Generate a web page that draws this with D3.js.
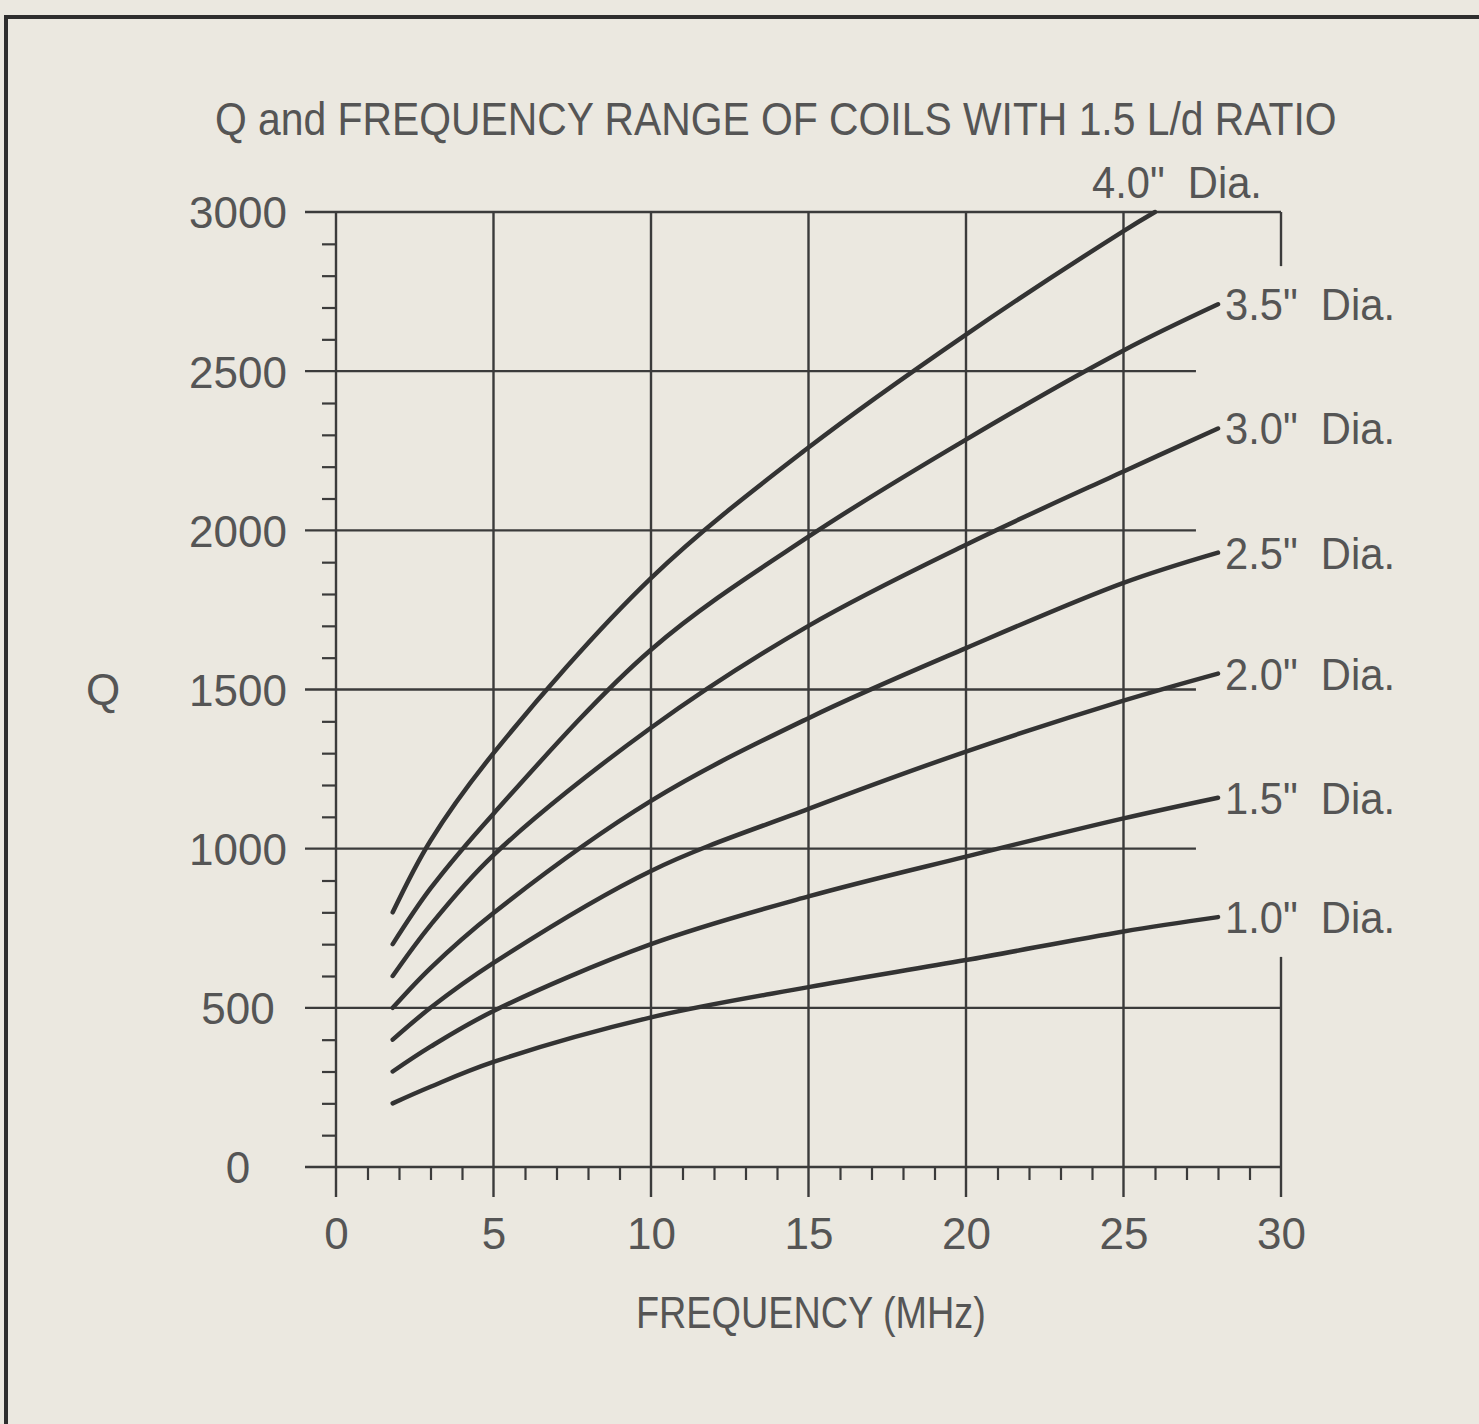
<!DOCTYPE html>
<html>
<head>
<meta charset="utf-8">
<script src="https://cdn.jsdelivr.net/npm/d3@7"></script>
<style>
  html, body { margin: 0; padding: 0; background: #ebe8e0; }
  svg { display: block; }
  text { font-family: 'Liberation Sans', Arial, sans-serif; fill: #555; }
</style>
</head>
<body>
<svg id="chart"></svg>
<script>
// values (Q vs frequency, coils with 1.5 L/d)
const freqs = [1.8, 3, 5, 10, 15, 20, 25, 28];
const freqs40 = [1.8, 3, 5, 10, 15, 20, 25, 26];   // 4.0" curve runs off the top at ~26 MHz

const q10 = [200, 252, 330, 470, 565, 650, 740, 785];
const q15 = [300, 378, 490, 700, 850, 975, 1095, 1160];
const q20 = [400, 500, 641, 930, 1125, 1305, 1465, 1550];
const q25 = [500, 625, 798, 1150, 1410, 1630, 1835, 1930];
const q30 = [600, 760, 980, 1380, 1700, 1955, 2185, 2320];
const q35 = [700, 875, 1110, 1625, 1980, 2285, 2565, 2710];
const q40 = [800, 1025, 1300, 1850, 2260, 2615, 2940, 3000];

const diaLabels = ['1.0"\u00a0 Dia.', '1.5"\u00a0 Dia.', '2.0"\u00a0 Dia.', '2.5"\u00a0 Dia.',
                   '3.0"\u00a0 Dia.', '3.5"\u00a0 Dia.', '4.0"\u00a0 Dia.'];

const xTicks = [0, 5, 10, 15, 20, 25, 30];
const yTicks = [0, 500, 1000, 1500, 2000, 2500, 3000];

const title = 'Q and FREQUENCY RANGE OF COILS WITH 1.5 L/d RATIO';
const xTitle = 'FREQUENCY (MHz)';
const yTitle = 'Q';

const width = 1479;
const height = 1424;

const svg = d3.select('#chart')
  .attr('width', width)
  .attr('height', height);

const x = d3.scaleLinear().domain([0, 30]).range([336, 1281]);
const y = d3.scaleLinear().domain([0, 3000]).range([1167, 212]);

const ink = '#3b3b3b';

// squeeze a text to a given width (the original lettering is condensed)
function fitText(sel, w) {
  sel.each(function() {
    const t = d3.select(this);
    const natural = this.getComputedTextLength();
    const k = w / natural;
    const x0 = +t.attr('x');
    const y0 = +t.attr('y');
    t.attr('transform', `translate(${x0},${y0}) scale(${k},1) translate(${-x0},${-y0})`);
  });
}

// outer frame of the figure (right and bottom run off the page)
svg.append('rect')
  .attr('x', 6).attr('y', 17)
  .attr('width', 1500).attr('height', 1500)
  .attr('fill', 'none')
  .attr('stroke', '#2e2e2e')
  .attr('stroke-width', 4);

// horizontal grid lines
const gridEnd = v => (v === 0 || v === 500 || v === 3000) ? 30 : 27.3;
svg.append('g')
  .selectAll('line')
  .data(yTicks)
  .enter().append('line')
  .attr('x1', 305)
  .attr('x2', d => x(gridEnd(d)))
  .attr('y1', d => y(d))
  .attr('y2', d => y(d))
  .attr('stroke', ink)
  .attr('stroke-width', 2.4);

// vertical grid lines, running below the axis as major ticks
svg.append('g')
  .selectAll('line')
  .data(xTicks.slice(0, -1))
  .enter().append('line')
  .attr('x1', d => x(d))
  .attr('x2', d => x(d))
  .attr('y1', y(3000))
  .attr('y2', y(0) + 30)
  .attr('stroke', ink)
  .attr('stroke-width', 2.4);

// right edge at 30 MHz is broken where the labels sit
const rightEdge = [[3000, 2830], [660, 0]];
svg.append('g')
  .selectAll('line')
  .data(rightEdge)
  .enter().append('line')
  .attr('x1', x(30))
  .attr('x2', x(30))
  .attr('y1', d => y(d[0]))
  .attr('y2', (d, i) => y(d[1]) + (i === 1 ? 30 : 0))
  .attr('stroke', ink)
  .attr('stroke-width', 2.4);

// minor ticks
const yMinor = d3.range(100, 3000, 100).filter(v => v % 500 !== 0);
const xMinor = d3.range(1, 30, 1).filter(v => v % 5 !== 0);

svg.append('g')
  .attr('transform', `translate(${x(0)},0)`)
  .call(d3.axisLeft(y).tickValues(yMinor).tickSize(14).tickFormat(''))
  .call(g => g.select('.domain').remove())
  .selectAll('line').attr('stroke', ink).attr('stroke-width', 2.2);

svg.append('g')
  .attr('transform', `translate(0,${y(0)})`)
  .call(d3.axisBottom(x).tickValues(xMinor).tickSize(13).tickFormat(''))
  .call(g => g.select('.domain').remove())
  .selectAll('line').attr('stroke', ink).attr('stroke-width', 2.2);

// tick labels
svg.append('g')
  .attr('transform', 'translate(238,0)')
  .call(d3.axisLeft(y).tickValues(yTicks).tickSize(0).tickPadding(0).tickFormat(d3.format('d')))
  .call(g => g.select('.domain').remove())
  .selectAll('text')
  .attr('x', 0)
  .attr('dy', '0.36em')
  .attr('text-anchor', 'middle')
  .attr('font-family', null)
  .attr('font-size', 44);

svg.append('g')
  .attr('transform', `translate(0,${y(0)})`)
  .call(d3.axisBottom(x).tickValues(xTicks).tickSize(0).tickPadding(51))
  .call(g => g.select('.domain').remove())
  .selectAll('text')
  .attr('font-family', null)
  .attr('font-size', 44);

// curves
const series = [q10, q15, q20, q25, q30, q35, q40].map((q, i) => ({
  label: diaLabels[i],
  pts: q.map((v, j) => [i === 6 ? freqs40[j] : freqs[j], v])
}));

const line = d3.line()
  .x(d => x(d[0]))
  .y(d => y(d[1]))
  .curve(d3.curveCatmullRom.alpha(0.5));

svg.append('g')
  .selectAll('path')
  .data(series)
  .enter().append('path')
  .attr('d', d => line(d.pts))
  .attr('fill', 'none')
  .attr('stroke', '#333')
  .attr('stroke-width', 4.5)
  .attr('stroke-linecap', 'round');

// curve labels
svg.append('g')
  .selectAll('text')
  .data(series.slice(0, 6))
  .enter().append('text')
  .attr('x', 1225)
  .attr('y', d => y(d.pts[d.pts.length - 1][1]) + 16)
  .attr('font-size', 45)
  .text(d => d.label)
  .call(fitText, 170);

svg.append('text')
  .attr('x', 1092)
  .attr('y', 198)
  .attr('font-size', 45)
  .text(series[6].label)
  .call(fitText, 170);

// titles
svg.append('text')
  .attr('x', 215)
  .attr('y', 135)
  .attr('font-size', 46)
  .text(title)
  .call(fitText, 1122);

svg.append('text')
  .attr('x', 636)
  .attr('y', 1328)
  .attr('font-size', 44)
  .text(xTitle)
  .call(fitText, 350);

svg.append('text')
  .attr('x', 103)
  .attr('y', y(1500))
  .attr('dy', '0.36em')
  .attr('text-anchor', 'middle')
  .attr('font-size', 44)
  .text(yTitle);
</script>
</body>
</html>
